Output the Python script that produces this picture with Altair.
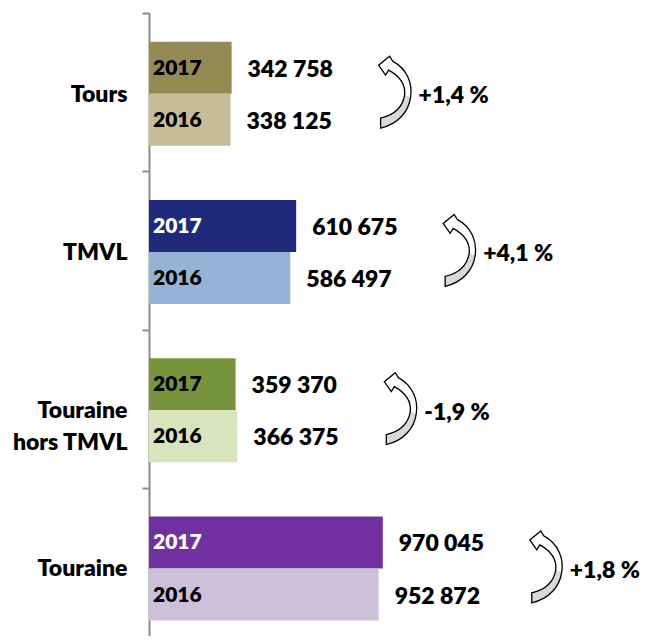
import altair as alt
import pandas as pd

categories = ["Tours", "TMVL", "Touraine hors TMVL", "Touraine"]
values_2017 = [342758, 610675, 359370, 970045]
values_2016 = [338125, 586497, 366375, 952872]
years = ["2017", "2016"]
colors_2017 = ["#948A54", "#1F2A7C", "#77933C", "#7030A0"]
colors_2016 = ["#C4BD97", "#95B3D7", "#D7E4BD", "#CCC0DA"]
year_text_2017 = ["black", "white", "black", "white"]

FONT = "Lato"
WEIGHT = 800

rows = []
keys, key_colors = [], []
for i, cat in enumerate(categories):
    for yr, vals, cols in (("2017", values_2017, colors_2017), ("2016", values_2016, colors_2016)):
        v = vals[i]
        key = f"{cat}|{yr}"
        keys.append(key)
        key_colors.append(cols[i])
        rows.append({
            "cat": cat,
            "year": yr,
            "value": v,
            "key": key,
            "vlabel": f"{v:,}".replace(",", " "),
            "tcolor": year_text_2017[i] if yr == "2017" else "black",
        })
df = pd.DataFrame(rows)

arr_rows = []
for i, cat in enumerate(categories):
    ch = (values_2017[i] / values_2016[i] - 1) * 100
    arr_rows.append({
        "cat": cat,
        "xpos": max(values_2017[i], values_2016[i]),
        "pct": f"{ch:+.1f}".replace(".", ",") + " %",
    })
adf = pd.DataFrame(arr_rows)

y_enc = alt.Y(
    "cat:N",
    sort=categories,
    scale=alt.Scale(range=[0, 633], paddingInner=0, paddingOuter=0),
    axis=alt.Axis(
        title=None,
        labelFont=FONT,
        labelFontWeight=WEIGHT,
        labelFontSize=23,
        labelColor="black",
        labelPadding=15,
        labelOffset=2,
        labelLineHeight=32,
        labelExpr="datum.label == 'Touraine hors TMVL' ? ['Touraine', 'hors TMVL'] : datum.label",
        tickBand="extent",
        tickSize=7,
        tickWidth=2,
        tickColor="#8C8C8C",
        domainColor="#8C8C8C",
        domainWidth=2,
        grid=False,
    ),
)
yoff = alt.YOffset("year:N", sort=years, scale=alt.Scale(paddingOuter=0.52, paddingInner=0, align=0.53))
x_scale = alt.Scale(domain=[0, 2000000], nice=False)

base = alt.Chart(df)

bars = base.mark_bar().encode(
    y=y_enc,
    yOffset=yoff,
    x=alt.X("value:Q", scale=x_scale, axis=None),
    color=alt.Color("key:N", scale=alt.Scale(domain=keys, range=key_colors), legend=None),
)

year_txt = base.mark_text(align="left", baseline="middle", dx=4, dy=1,
                          font=FONT, fontWeight=WEIGHT, fontSize=21).encode(
    y=alt.Y("cat:N", sort=categories),
    yOffset=alt.YOffset("year:N", sort=years),
    x=alt.datum(0),
    text="year:N",
    color=alt.Color("tcolor:N", scale=None),
)

val_txt = base.mark_text(align="left", baseline="middle", dx=16, dy=2,
                         font=FONT, fontWeight=WEIGHT, fontSize=23, color="black").encode(
    y=alt.Y("cat:N", sort=categories),
    yOffset=alt.YOffset("year:N", sort=years),
    x=alt.X("value:Q"),
    text="vlabel:N",
)

ARROW = ("M -0.056 -0.861 C 0.361 -0.639 0.5 -0.222 0.444 0.139 "
         "C 0.389 0.556 0.083 0.889 -0.389 1.0 L -0.389 0.722 "
         "C -0.028 0.639 0.222 0.417 0.278 0.083 "
         "C 0.306 -0.194 0.139 -0.444 -0.167 -0.611 "
         "L -0.25 -0.472 L -0.444 -0.75 L -0.139 -1.0 Z")
TAIL = ("M 0.444 0.139 C 0.389 0.556 0.083 0.889 -0.389 1.0 L -0.389 0.722 "
        "C -0.028 0.639 0.222 0.417 0.278 0.083 Z")

abase = alt.Chart(adf)
aenc = dict(y=alt.Y("cat:N", sort=categories), x=alt.X("xpos:Q"))

arrow_fill = abase.mark_point(shape=ARROW, size=5184, filled=True, fill="white",
                              stroke="black", strokeWidth=0, opacity=1, xOffset=163).encode(**aenc)
arrow_tail = abase.mark_point(shape=TAIL, size=5184, filled=True, fill="#D9D9D9",
                              strokeWidth=0, opacity=1, xOffset=163).encode(**aenc)
arrow_line = abase.mark_point(shape=ARROW, size=5184, filled=False, stroke="black",
                              strokeWidth=1.3, opacity=1, xOffset=163).encode(**aenc)

pct_txt = abase.mark_text(align="left", baseline="middle", dx=187, dy=4,
                          font=FONT, fontWeight=WEIGHT, fontSize=23, color="black").encode(
    text="pct:N", **aenc)

chart = alt.layer(bars, year_txt, val_txt, arrow_fill, arrow_tail, arrow_line, pct_txt).properties(
    width=482,
    height=623,
    autosize=alt.AutoSizeParams(type="none"),
    padding={"left": 141, "top": 5, "right": 9, "bottom": 0},
).configure_view(stroke="transparent")

chart.save("out.html", embed_options={"renderer": "svg", "actions": False})
